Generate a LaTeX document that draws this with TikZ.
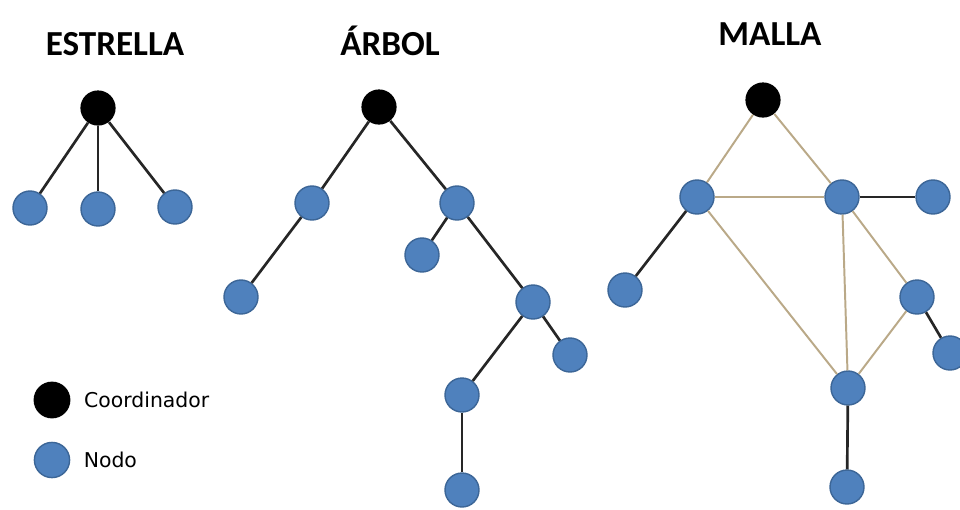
\documentclass[tikz,border=0pt]{standalone}
\usepackage{fontspec}
\setmainfont{Carlito}
\newfontfamily\legendfont{DejaVu Sans}
\usetikzlibrary{positioning}
\definecolor{nodeblue}{HTML}{4F81BD}
\definecolor{nodeedge}{HTML}{3C6697}
\definecolor{meshline}{HTML}{BAA988}
\definecolor{treeline}{HTML}{262626}

\begin{document}
\begin{tikzpicture}[x=0.025cm, y=-0.025cm,
		coord/.style={circle, fill=black, minimum size=0.88cm, inner sep=0pt},
		nodo/.style={circle, fill=nodeblue, draw=nodeedge, line width=1pt, minimum size=0.85cm, inner sep=0pt},
		link/.style={treeline, line width=1.9pt},
		mesh/.style={meshline, line width=1.4pt},
		title/.style={font=\fontsize{25}{29}\selectfont\bfseries, anchor=base, inner sep=0pt},
		legend/.style={font=\legendfont\fontsize{14.5}{17}\selectfont, inner sep=0pt}]
		\useasboundingbox (0,0) rectangle (960,509);
		\clip (0,0) rectangle (960,509);
		
		% titulos
		\node[title] (tEst) at (115,55) {ESTRELLA};
		\node[title] (tArb) at (390,55) {ÁRBOL};
		\node[title] (tMal) at (770,45) {MALLA};
		
		% estrella
		\node[coord] (e0) at (98,108) {};
		\node[nodo] (e1) at (30,208) {};
		\node[nodo] (e2) at (98,209) {};
		\node[nodo] (e3) at (175,207) {};
		\draw[link] (e0) -- (e1);
		\draw[link] (e0) -- (e2);
		\draw[link] (e0) -- (e3);
		
		% arbol
		\node[coord] (a0) at (379,107) {};
		\node[nodo] (a1) at (312,203) {};
		\node[nodo] (a2) at (457,203) {};
		\node[nodo] (a3) at (241,297) {};
		\node[nodo] (a4) at (422,255) {};
		\node[nodo] (a5) at (533,302) {};
		\node[nodo] (a6) at (570,355) {};
		\node[nodo] (a7) at (462,395) {};
		\node[nodo] (a8) at (462,490) {};
		\draw[link] (a0) -- (a1);
		\draw[link] (a0) -- (a2);
		\draw[link] (a1) -- (a3);
		\draw[link] (a2) -- (a4);
		\draw[link] (a2) -- (a5);
		\draw[link] (a5) -- (a6);
		\draw[link] (a5) -- (a7);
		\draw[link] (a7) -- (a8);
		
		% malla
		\node[coord] (m0) at (763,100) {};
		\node[nodo] (m1) at (697,197) {};
		\node[nodo] (m2) at (842,197) {};
		\node[nodo] (m3) at (933,197) {};
		\node[nodo] (m4) at (625,290) {};
		\node[nodo] (m5) at (917,297) {};
		\node[nodo] (m6) at (950,353) {};
		\node[nodo] (m7) at (848,388) {};
		\node[nodo] (m8) at (847,487) {};
		\draw[mesh] (m0) -- (m1);
		\draw[mesh] (m0) -- (m2);
		\draw[mesh] (m1) -- (m2);
		\draw[mesh] (m1) -- (m7);
		\draw[mesh] (m2) -- (m7);
		\draw[mesh] (m2) -- (m5);
		\draw[mesh] (m5) -- (m7);
		\draw[link] (m2) -- (m3);
		\draw[link] (m1) -- (m4);
		\draw[link] (m5) -- (m6);
		\draw[link] (m7) -- (m8);
		
		% leyenda
		\node[coord, minimum size=0.92cm] (legC) at (52,400) {};
		\node[nodo, minimum size=0.88cm] (legN) at (52,460) {};
		\node[legend, right=0.33cm of legC] (txtC) {Coordinador};
		\node[legend, right=0.33cm of legN] (txtN) {Nodo};
	\end{tikzpicture}
\end{document}
